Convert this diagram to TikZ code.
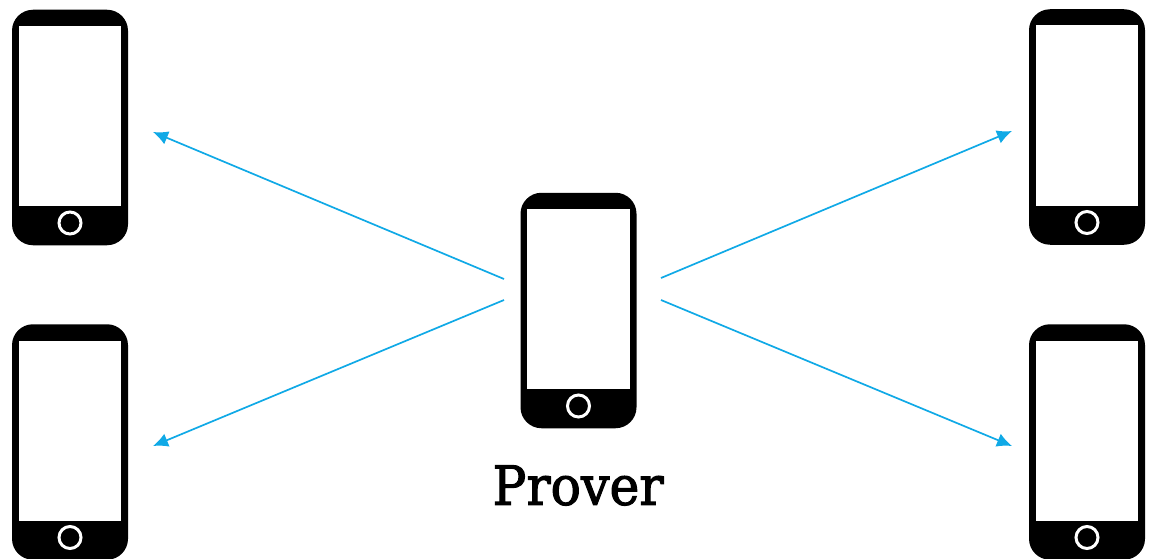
\documentclass[tikz,border=0pt]{standalone}
\usepackage{fontspec}
\setmainfont{DejaVu Serif}
\newfontfamily\captionfont[FakeBold=2]{DejaVu Serif}
\usetikzlibrary{arrows.meta}
\definecolor{arrowblue}{HTML}{10A9E6}
\tikzset{
  phonebody/.style={fill=black,draw=none,rounded corners=21pt,minimum width=116pt,minimum height=235.5pt,inner sep=0pt,outer sep=0pt},
  phonescreen/.style={fill=white,draw=none,minimum width=102.5pt,minimum height=180pt,inner sep=0pt,outer sep=0pt},
  phonebutton/.style={circle,fill=black,draw=white,line width=3pt,minimum size=22pt,inner sep=0pt,outer sep=0pt},
  link/.style={draw=arrowblue,line width=1.7pt,-{Latex[length=15pt,width=14pt]}},
  caption/.style={font=\captionfont\fontsize{54}{60}\selectfont,text=black,inner sep=0pt,xscale=0.935,transform shape}
}
\newcommand{\phonedevice}[3]{%
  \node[phonebody] (#1) at (#2,#3) {};
  \node[phonescreen] (#1s) at (#2,#3-11.5) {};
  \node[phonebutton] (#1b) at (#2,#3+95.5) {};
}
\begin{document}
\begin{tikzpicture}[x=1pt,y=-1pt]
\useasboundingbox (0,0) rectangle (1156,559);
\phonedevice{tl}{70}{127.5}
\phonedevice{bl}{70}{442}
\phonedevice{tr}{1087}{127}
\phonedevice{br}{1087}{442}
\phonedevice{c}{578.5}{310.5}
\node[caption] (prover) at (578,485.5) {Prover};
\coordinate (a1) at (504,279);
\coordinate (e1) at (153,132);
\coordinate (a2) at (504,300);
\coordinate (e2) at (153,446);
\coordinate (a3) at (661,278);
\coordinate (e3) at (1012,131);
\coordinate (a4) at (661,300);
\coordinate (e4) at (1012,446);
\draw[link] (a1) -- (e1);
\draw[link] (a2) -- (e2);
\draw[link] (a3) -- (e3);
\draw[link] (a4) -- (e4);
\end{tikzpicture}
\end{document}
